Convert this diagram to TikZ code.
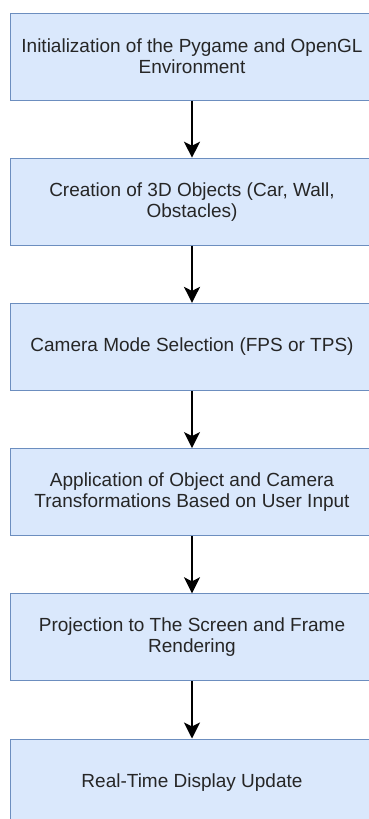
\documentclass[tikz,border=0pt]{standalone}
\usepackage{fontspec}
\setmainfont{Liberation Sans}
\usetikzlibrary{arrows.meta}

\definecolor{boxfill}{HTML}{DAE8FC}
\definecolor{boxline}{HTML}{6C8EBF}

\tikzset{
	stepbox/.style={rectangle, draw=boxline, fill=boxfill, line width=1pt, minimum width=364pt, minimum height=87pt, align=center, text=black!85, font=\fontsize{19}{21}\selectfont},
	flow/.style={line width=2pt, -{Stealth[length=16pt, width=16pt, inset=4pt]}}
}

\begin{document}
\begin{tikzpicture}[x=1pt, y=-1pt]
		
		\useasboundingbox (0,0) rectangle (368,819);
		
		\node[stepbox] 
		(Node1) at (192,56.5) {Initialization of the Pygame and OpenGL\\Environment};
		
		\node[stepbox] 
		(Node2) at (192,201.7) {Creation of 3D Objects (Car, Wall,\\Obstacles)};
		
		\node[stepbox] 
		(Node3) at (192,346.9) {Camera Mode Selection (FPS or TPS)};
		
		\node[stepbox] 
		(Node4) at (192,492.1) {Application of Object and Camera\\Transformations Based on User Input};
		
		\node[stepbox] 
		(Node5) at (192,637.3) {Projection to The Screen and Frame\\Rendering};
		
		\node[stepbox] 
		(Node6) at (192,782.5) {Real-Time Display Update};
		
		% Arrows
		
		\draw[flow] (Node1) -- (Node2);
		
		\draw[flow] (Node2) -- (Node3);
		
		\draw[flow] (Node3) -- (Node4);
		
		\draw[flow] (Node4) -- (Node5);
		
		\draw[flow] (Node5) -- (Node6);
		
	\end{tikzpicture}
\end{document}
